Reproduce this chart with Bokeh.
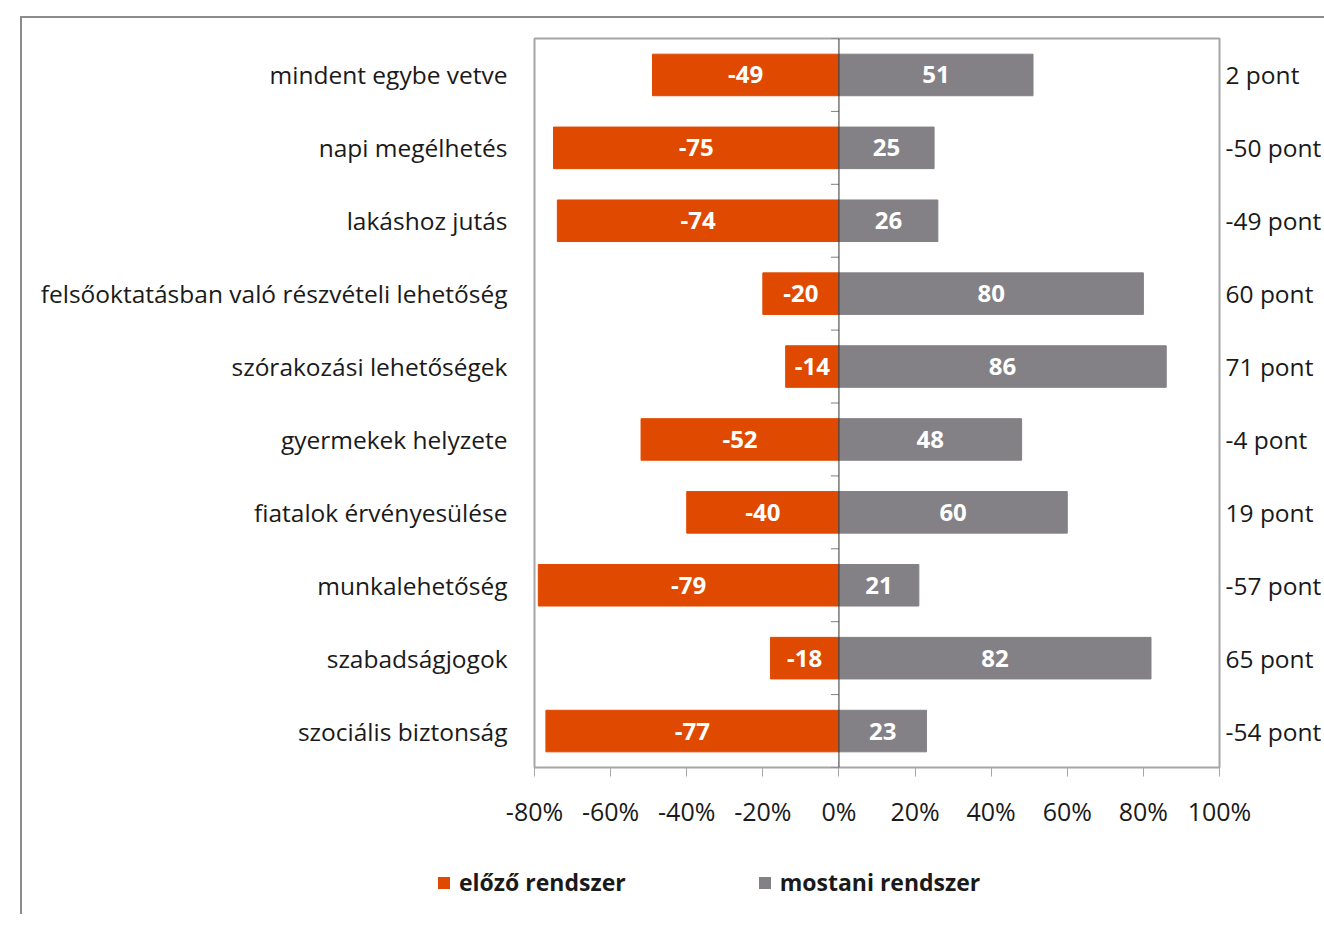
from bokeh.plotting import figure
from bokeh.layouts import column
from bokeh.models import (FactorRange, Range1d, Span, CategoricalAxis, FixedTicker,
                          ColumnDataSource, CustomJSTickFormatter, Legend, LegendItem)
from bokeh.core.properties import value
from bokeh.embed import file_html
from bokeh.resources import INLINE

categories = ["mindent egybe vetve", "napi megélhetés", "lakáshoz jutás",
              "felsőoktatásban való részvételi lehetőség", "szórakozási lehetőségek",
              "gyermekek helyzete", "fiatalok érvényesülése", "munkalehetőség",
              "szabadságjogok", "szociális biztonság"]
previous = [-49, -75, -74, -20, -14, -52, -40, -79, -18, -77]
current = [51, 25, 26, 80, 86, 48, 60, 21, 82, 23]
difference = ["2 pont", "-50 pont", "-49 pont", "60 pont", "71 pont",
              "-4 pont", "19 pont", "-57 pont", "65 pont", "-54 pont"]
x_ticks = [-80, -60, -40, -20, 0, 20, 40, 60, 80, 100]
series_names = ["előző rendszer", "mostani rendszer"]

ORANGE = "#E04A00"
GRAY = "#838186"
FONT = "Open Sans"
TXT = "#1a1a1a"

src = ColumnDataSource(dict(
    cat=categories, prev=previous, cur=current,
    prev_mid=[v / 2 for v in previous], cur_mid=[v / 2 for v in current],
    prev_lbl=[str(v) for v in previous], cur_lbl=[str(v) for v in current],
))

W = 1302
p = figure(width=W, height=830, output_backend="svg", toolbar_location=None,
           x_range=Range1d(-80, 100), y_range=FactorRange(*reversed(categories)),
           min_border_left=512, min_border_right=100, min_border_top=20,
           min_border_bottom=81)
p.frame_align = False

p.outline_line_color = "#a6a6a6"
p.outline_line_width = 2
p.xgrid.visible = False
p.ygrid.visible = False

r_prev = p.hbar(y="cat", left=0, right="prev", height=0.57, source=src, color=ORANGE)
r_cur = p.hbar(y="cat", left=0, right="cur", height=0.57, source=src, color=GRAY)

p.text(x="prev_mid", y="cat", text="prev_lbl", source=src, text_color="white",
       text_font=value(FONT), text_font_style="bold", text_font_size="24px",
       text_align="center", text_baseline="middle")
p.text(x="cur_mid", y="cat", text="cur_lbl", source=src, text_color="white",
       text_font=value(FONT), text_font_style="bold", text_font_size="24px",
       text_align="center", text_baseline="middle")

# central value axis line with category tick marks
p.add_layout(Span(location=0, dimension="height", line_color="#303030", line_width=1))
n = len(categories)
p.segment(x0=[-2.1] * (n + 1), x1=[0] * (n + 1), y0=list(range(n + 1)),
          y1=list(range(n + 1)), line_color="#808080", line_width=1)

# x axis
xa = p.xaxis[0]
xa.ticker = FixedTicker(ticks=x_ticks)
xa.formatter = CustomJSTickFormatter(code="return tick + '%';")
xa.axis_line_color = None
xa.major_tick_out = 9
xa.major_tick_in = 0
xa.major_tick_line_color = "#a6a6a6"
xa.minor_tick_line_color = None
xa.major_label_standoff = 17
xa.major_label_text_font = FONT
xa.major_label_text_font_size = "25px"
xa.major_label_text_color = TXT

# y axis (category labels)
ya = p.yaxis[0]
ya.axis_line_color = None
ya.major_tick_line_color = None
ya.major_label_standoff = 21
ya.major_label_text_font = FONT
ya.major_label_text_font_size = "24.5px"
ya.major_label_text_color = TXT

# right axis with point differences
p.extra_y_ranges = {"diff": FactorRange(*reversed(difference))}
ra = CategoricalAxis(y_range_name="diff")
ra.axis_line_color = None
ra.major_tick_line_color = None
ra.major_label_standoff = 0
ra.major_label_text_font = FONT
ra.major_label_text_font_size = "24.5px"
ra.major_label_text_color = TXT
p.add_layout(ra, "right")

# legend in its own strip below the chart
LH = 66
lf = figure(width=W, height=LH, output_backend="svg", toolbar_location=None,
            x_range=Range1d(0, W), y_range=Range1d(0, LH),
            min_border=0, outline_line_color=None)
lf.frame_align = False
lf.axis.visible = False
lf.grid.visible = False
key_src = ColumnDataSource(dict(y=[0], v=[0]))
k1 = lf.hbar(y="y", left="v", right="v", height=1, source=key_src,
             fill_color=ORANGE, line_color=None)
k2 = lf.hbar(y="y", left="v", right="v", height=1, source=key_src,
             fill_color=GRAY, line_color=None)
lg = Legend(items=[LegendItem(label=series_names[0], renderers=[k1]),
                   LegendItem(label=series_names[1], renderers=[k2])],
            orientation="horizontal", location=(414, 16),
            glyph_width=15, glyph_height=15, label_standoff=8, spacing=131,
            padding=0, margin=0, border_line_color=None, background_fill_alpha=0,
            label_text_font=FONT, label_text_font_style="bold",
            label_text_font_size="23px", label_text_color=TXT, label_height=20)
lf.add_layout(lg, "center")

layout = column(p, lf, spacing=0,
                styles={"margin-left": "20px", "margin-top": "16px",
                        "border-left": "2px solid #8c8c8c",
                        "border-top": "2px solid #8c8c8c"})

open("out.html", "w").write(file_html(layout, INLINE))
